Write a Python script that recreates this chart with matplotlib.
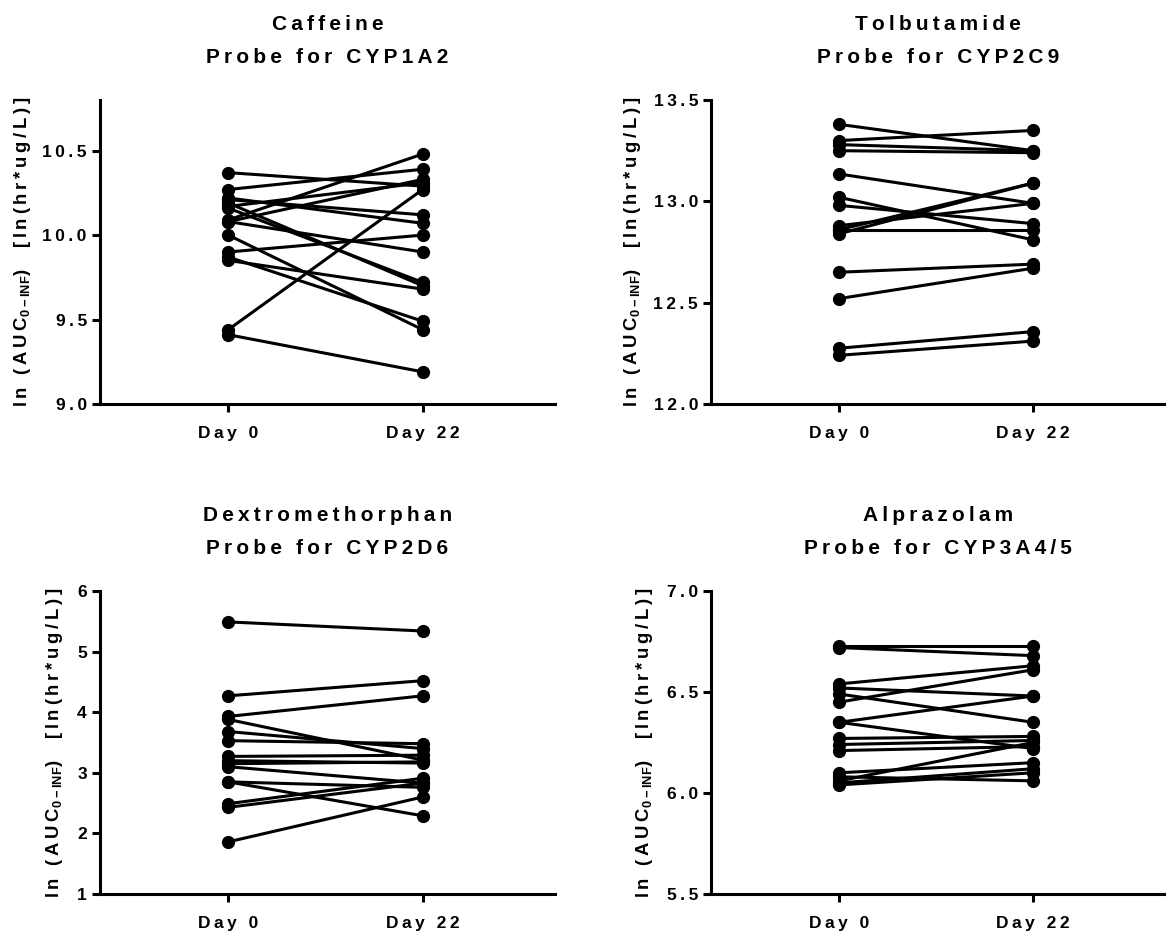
import matplotlib.pyplot as plt

plt.rcParams['font.family'] = ['Liberation Sans', 'DejaVu Sans']
plt.rcParams['font.weight'] = 'bold'
plt.rcParams['mathtext.fontset'] = 'custom'
plt.rcParams['mathtext.rm'] = 'Liberation Sans:bold'
plt.rcParams['mathtext.bf'] = 'Liberation Sans:bold'

days = ["Day 0", "Day 22"]

caf_d0 = [10.37, 10.27, 10.09, 10.08, 10.21, 10.19, 10.16, 10.22, 10.00, 10.08, 9.90, 9.85, 9.87, 9.44, 9.41, 10.17]
caf_d22 = [10.29, 10.39, 10.48, 10.33, 10.12, 9.70, 9.72, 10.07, 9.44, 9.90, 10.00, 9.68, 9.49, 10.27, 9.19, 10.31]

tol_d0 = [13.38, 13.30, 13.28, 13.25, 13.135, 13.02, 12.98, 12.88, 12.86, 12.84, 12.86, 12.65, 12.52, 12.275, 12.24]
tol_d22 = [13.25, 13.35, 13.25, 13.24, 12.99, 12.81, 12.89, 12.99, 13.09, 13.09, 12.86, 12.69, 12.67, 12.357, 12.31]

dex_d0 = [5.49, 4.27, 3.93, 3.88, 3.68, 3.53, 3.27, 3.20, 3.15, 3.10, 2.85, 2.85, 2.49, 2.43, 1.86]
dex_d22 = [5.34, 4.52, 4.27, 3.21, 3.40, 3.48, 3.29, 3.16, 3.18, 2.83, 2.76, 2.29, 2.91, 2.83, 2.60]

alp_d0 = [6.73, 6.72, 6.54, 6.52, 6.49, 6.45, 6.35, 6.35, 6.27, 6.24, 6.21, 6.10, 6.08, 6.06, 6.04, 6.05]
alp_d22 = [6.73, 6.68, 6.63, 6.48, 6.35, 6.61, 6.48, 6.22, 6.28, 6.26, 6.23, 6.15, 6.06, 6.25, 6.10, 6.12]

titles = ["Caffeine\nProbe for CYP1A2", "Tolbutamide\nProbe for CYP2C9",
          "Dextromethorphan\nProbe for CYP2D6", "Alprazolam\nProbe for CYP3A4/5"]
yticks = [[9.0, 9.5, 10.0, 10.5], [12.0, 12.5, 13.0, 13.5], [1, 2, 3, 4, 5, 6], [5.5, 6.0, 6.5, 7.0]]
ylims = [(9.0, 10.8), (12.0, 13.5), (1, 6), (5.5, 7.0)]
data = [(caf_d0, caf_d22), (tol_d0, tol_d22), (dex_d0, dex_d22), (alp_d0, alp_d22)]


def spaced(s):
    return "\u2009".join(s)


ylabel = spaced("ln (AUC") + r"$_{\mathrm{0-INF}}$" + spaced(")  [ln(hr*ug/L)]")

fig = plt.figure(figsize=(11.66, 9.35), dpi=100)
rects = [[0.0858, 0.568, 0.390, 0.325], [0.610, 0.568, 0.389, 0.325],
         [0.0858, 0.0439, 0.390, 0.324], [0.610, 0.0439, 0.389, 0.324]]
labx = [-0.147, -0.15, -0.077, -0.123]

for i in range(4):
    ax = fig.add_axes(rects[i])
    d0, d22 = data[i]
    for a, b in zip(d0, d22):
        ax.plot([0, 1], [a, b], '-o', color='black', lw=2.2, ms=8.5)
    ax.set_xlim(-0.66, 1.68)
    ax.set_ylim(ylims[i])
    ax.set_xticks([0, 1], labels=[spaced(d) for d in days])
    if i == 2:
        labs = [spaced(str(t)) for t in yticks[i]]
    else:
        labs = [spaced(f"{t:.1f}") for t in yticks[i]]
    ax.set_yticks(yticks[i], labels=labs)
    for s in ['top', 'right']:
        ax.spines[s].set_visible(False)
    for s in ['left', 'bottom']:
        ax.spines[s].set_linewidth(2.2)
    ax.tick_params(axis='both', length=6, width=2.2, labelsize=12.5)
    ax.tick_params(axis='x', pad=10)
    ax.tick_params(axis='y', pad=3.5)
    t1, t2 = titles[i].split("\n")
    ax.set_title(spaced(t1) + "\n" + spaced(t2), fontsize=15, fontweight='bold', pad=27, linespacing=1.9)
    ax.set_ylabel(ylabel, fontsize=13.3, fontweight='bold')
    ax.yaxis.set_label_coords(labx[i], 0.5)

fig.savefig("out.png", dpi=100)
